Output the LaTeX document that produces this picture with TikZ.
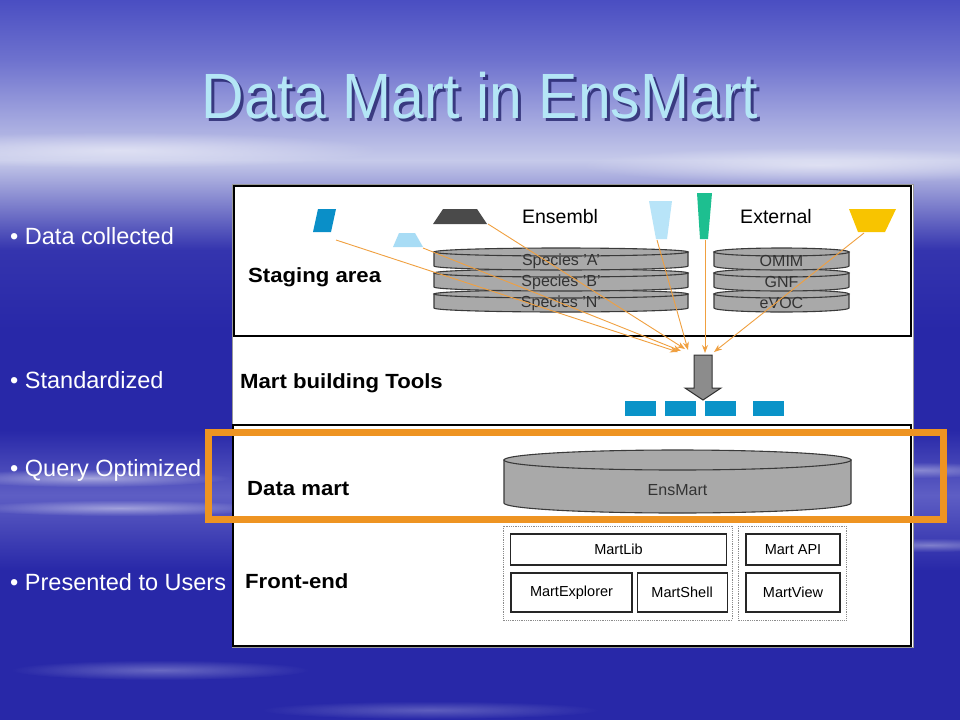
\documentclass[tikz,border=0pt]{standalone}
\usepackage{fontspec}
\setmainfont{Liberation Sans}
\usepackage{tikz}
\usetikzlibrary{arrows.meta}
\usetikzlibrary{positioning,fadings}

\definecolor{skytop}{HTML}{4A4EC2}
\definecolor{skymid}{HTML}{6E72CE}
\definecolor{skyhaze}{HTML}{C6CAEA}
\definecolor{skydeep}{HTML}{2828A8}
\definecolor{skysoft}{HTML}{3434AE}
\definecolor{skylight}{HTML}{5E5EC4}
\definecolor{titlecyan}{HTML}{B4E6F6}
\definecolor{titleshade}{HTML}{22226A}
\definecolor{discgray}{HTML}{A9A9A9}
\definecolor{discedge}{HTML}{3A3A3A}
\definecolor{feedorange}{HTML}{F0A040}
\definecolor{focusorange}{HTML}{EE9422}
\definecolor{martblue}{HTML}{0A93C8}
\definecolor{srcblue}{HTML}{0A8FC8}
\definecolor{srclight}{HTML}{A8DCF5}
\definecolor{srcdark}{HTML}{4A4A4A}
\definecolor{srcpale}{HTML}{B8E4F8}
\definecolor{srcgreen}{HTML}{1DBF90}
\definecolor{srcyellow}{HTML}{F8C400}

\tikzfading[name=softstreak,inner color=transparent!0,outer color=transparent!100]

\begin{document}
\begin{tikzpicture}[x=1pt,y=-1pt,
	bullet/.style={text=white,font=\fontsize{23.5}{26}\selectfont,anchor=base west,inner sep=0pt},
	layer/.style={font=\bfseries\fontsize{20.5}{23}\selectfont,xscale=1.08,anchor=base west,inner sep=0pt},
	srctext/.style={font=\fontsize{19.5}{22}\selectfont,inner sep=0pt},
	disc/.style={fill=discgray,draw=discedge,line width=1.1pt},
	disclabel/.style={text=black!80,font=\fontsize{16}{18}\selectfont,inner sep=0pt},
	febox/.style={draw=black!85,line width=1.1pt,fill=white,font=\fontsize{14.5}{16}\selectfont,inner sep=0pt},
	group/.style={draw=black!45,line width=.8pt,densely dotted},
	feed/.style={-{Stealth[length=8pt,width=6pt]},draw=feedorange,line width=.9pt},
	focus/.style={draw=focusorange,line width=7pt},
	streak/.style={white,path fading=softstreak}]

	\useasboundingbox (0,0) rectangle (960,720);

	% sky
	\fill[skydeep] (0,0) rectangle (960,720);
	\shade[top color=skytop,bottom color=skymid] (0,0) rectangle (960,60);
	\shade[top color=skymid,bottom color=skyhaze] (0,60) rectangle (960,160);
	\shade[top color=skyhaze,bottom color=skysoft] (0,160) rectangle (960,250);
	\shade[top color=skysoft,bottom color=skydeep] (0,250) rectangle (960,330);
	\shade[top color=skydeep,bottom color=skylight] (0,430) rectangle (960,495);
	\shade[top color=skylight,bottom color=skydeep] (0,495) rectangle (960,570);
	\fill[streak,opacity=.5] (120,150) ellipse[x radius=260,y radius=18];
	\fill[streak,opacity=.5] (820,165) ellipse[x radius=240,y radius=18];
	\fill[streak,opacity=.5] (90,478) ellipse[x radius=140,y radius=9];
	\fill[streak,opacity=.45] (120,508) ellipse[x radius=150,y radius=8];
	\fill[streak,opacity=.35] (920,470) ellipse[x radius=90,y radius=8];
	\fill[streak,opacity=.35] (930,545) ellipse[x radius=90,y radius=7];
	\fill[streak,opacity=.3] (160,670) ellipse[x radius=150,y radius=10];
	\fill[streak,opacity=.25] (430,710) ellipse[x radius=170,y radius=9];

	% title
	\node[anchor=base,text=titleshade,opacity=.8,font=\fontsize{64}{70}\selectfont,xscale=.92] at (483,121) {Data Mart in EnsMart};
	\node[anchor=base,text=titlecyan,font=\fontsize{64}{70}\selectfont,xscale=.92] (title) at (480,118) {Data Mart in EnsMart};

	% bullets
	\node[bullet] (collected) at (10,244) {•\ Data collected};
	\node[bullet] (standard) at (10,388) {•\ Standardized};
	\node[bullet] (query) at (10,476) {•\ Query Optimized};
	\node[bullet] (users) at (10,590) {•\ Presented to Users};

	% panel
	\fill[white] (232,184) rectangle (913,647);
	\draw[black!40,line width=.5pt] (232,184) rectangle (913,647);
	\draw[line width=1.2pt] (234,186) rectangle (911,336);
	\draw[line width=1.2pt] (233,425) rectangle (911,646);

	\node[layer] (staging) at (248,282) {Staging area};
	\node[layer] (tools) at (240,388) {Mart building Tools};
	\node[layer] (datamart) at (247,495) {Data mart};
	\node[layer] (frontend) at (245,588) {Front-end};

	% sources
	\fill[srcblue] (318,209) -- (336,209) -- (331,232) -- (313,232) -- cycle;
	\fill[srclight] (399,233) -- (415,233) -- (423,247) -- (393,247) -- cycle;
	\fill[srcdark] (443,209) -- (477,209) -- (487,224) -- (433,224) -- cycle;
	\fill[srcpale] (649,201) -- (672,201) -- (667,239) -- (656,239) -- cycle;
	\fill[srcgreen] (697,193) -- (712,193) -- (708,239) -- (700,239) -- cycle;
	\fill[srcyellow] (849,209) -- (896,209) -- (885,232) -- (858,232) -- cycle;

	\node[srctext] (ensembl) at (560,217) {Ensembl};
	\node[srctext] (external) at (776,217) {External};

	% staging stacks
	\foreach \ty/\lab in {294/{Species 'N'},273/{Species 'B'},252/{Species 'A'}} {
		\filldraw[disc] (434,\ty) -- (434,\ty+14) arc[start angle=180,end angle=0,x radius=127,y radius=4] -- (688,\ty) -- cycle;
		\filldraw[disc] (561,\ty) ellipse[x radius=127,y radius=4];
		\node[disclabel] (sp\ty) at (561,\ty+9) {\lab};
	}
	\foreach \ty/\lab in {294/eVOC,273/GNF,252/OMIM} {
		\filldraw[disc] (714,\ty) -- (714,\ty+14) arc[start angle=180,end angle=0,x radius=67.5,y radius=4] -- (849,\ty) -- cycle;
		\filldraw[disc] (781.5,\ty) ellipse[x radius=67.5,y radius=4];
		\node[disclabel] (ext\ty) at (781.5,\ty+9) {\lab};
	}

	% feeds
	\coordinate (fromBlue) at (336,240);
	\coordinate (fromLight) at (423,248);
	\coordinate (fromDark) at (488,224);
	\coordinate (fromPale) at (657,240);
	\coordinate (fromGreen) at (705,240);
	\coordinate (fromYellow) at (864,233);
	\coordinate (toBlue) at (678,352);
	\coordinate (toLight) at (681,351);
	\coordinate (toDark) at (685,349);
	\coordinate (toPale) at (688,350);
	\coordinate (toGreen) at (705,353);
	\coordinate (toYellow) at (714,352);
	\draw[feed] (fromBlue) -- (toBlue);
	\draw[feed] (fromLight) -- (toLight);
	\draw[feed] (fromDark) -- (toDark);
	\draw[feed] (fromPale) -- (toPale);
	\draw[feed] (fromGreen) -- (toGreen);
	\draw[feed] (fromYellow) -- (toYellow);

	% build arrow and tables
	\filldraw[fill=black!45,draw=black!80,line width=1pt] (694,355) -- (712,355) -- (712,388) -- (721,388) -- (703,400) -- (685,388) -- (694,388) -- cycle;
	\foreach \bx in {625,665,705,753}
		\fill[martblue] (\bx,401) rectangle ++(31,15);

	% data mart
	\filldraw[disc] (504,460) -- (504,503) arc[start angle=180,end angle=0,x radius=173.5,y radius=10] -- (851,460) -- cycle;
	\filldraw[disc] (677.5,460) ellipse[x radius=173.5,y radius=10];
	\node[disclabel] (ensmart) at (677.5,490) {EnsMart};

	% front-end
	\draw[group] (503,526) rectangle (732,620);
	\draw[group] (738,526) rectangle (846,620);
	\node[febox,minimum width=216pt,minimum height=31pt] (martlib) at (618.5,549.5) {MartLib};
	\node[febox,minimum width=121pt,minimum height=39pt] (explorer) at (571.5,592.5) {MartExplorer};
	\node[febox,minimum width=90pt,minimum height=39pt,right=4pt of explorer] (shell) {MartShell};
	\node[febox,minimum width=94pt,minimum height=31pt] (api) at (793,549.5) {Mart API};
	\node[febox,minimum width=94pt,minimum height=39pt] (view) at (793,592.5) {MartView};

	% focus on data mart
	\draw[focus] (208.5,432) rectangle (943.5,519);
\end{tikzpicture}
\end{document}
